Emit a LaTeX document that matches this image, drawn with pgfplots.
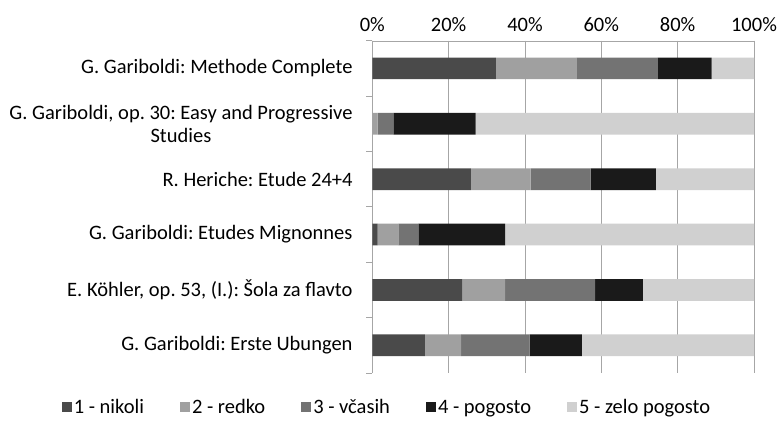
\documentclass[border=0pt]{standalone}
\usepackage{pgfplots}
\pgfplotsset{compat=1.18}
\usepackage{fontspec}
\setmainfont{Carlito}
\frenchspacing
\definecolor{c1}{HTML}{4A4A4A}
\definecolor{c2}{HTML}{A0A0A0}
\definecolor{c3}{HTML}{737373}
\definecolor{c4}{HTML}{1A1A1A}
\definecolor{c5}{HTML}{D0D0D0}
\definecolor{gridc}{HTML}{A6A6A6}
\begin{document}
\begin{tikzpicture}
\path[use as bounding box] (-372.3bp,-49bp) rectangle (406.7bp,373bp);
\begin{axis}[
  at={(0,0)}, anchor=south west,
  scale only axis,
  width=381.7bp, height=332.3bp,
  xbar stacked,
  bar width=21.7bp,
  xmin=0, xmax=100,
  ymin=-0.5, ymax=5.5,
  y dir=reverse,
  axis x line*=top,
  axis y line*=left,
  axis line style={gridc},
  xtick={0,20,40,60,80,100},
  xticklabel={\pgfmathprintnumber{\tick}\%},
  /pgf/number format/assume math mode=true,
  xmajorgrids,
  major grid style={gridc, line width=0.8pt},
  x tick style={gridc},
  major x tick style={draw=none},
  ytick={0,1,2,3,4,5},
  yticklabels={G. Gariboldi: Methode Complete,{G. Gariboldi, op. 30: Easy and Progressive\\Studies},R. Heriche: Etude 24+4,G. Gariboldi: Etudes Mignonnes,{E. Köhler, op. 53, (I.): Šola za flavto},G. Gariboldi: Erste Ubungen},
  yticklabel style={align=center, font=\fontsize{20.5bp}{23bp}\selectfont, xshift=-12bp},
  xticklabel style={font=\fontsize{20.5bp}{23bp}\selectfont, yshift=1bp},
  major y tick style={draw=none},
  minor ytick={-0.5,0.5,1.5,2.5,3.5,4.5,5.5},
  minor y tick style={gridc, line width=0.8pt},
  minor tick length=6bp,
  tick align=outside,
  legend columns=5,
  legend style={at={(0.0385,-0.111)}, anchor=center, draw=none, font=\fontsize{20.5bp}{23bp}\selectfont,
    nodes={text height=0.72em, text depth=0.22em, inner xsep=2bp},
    /tikz/every even column/.append style={column sep=34bp}},
  legend image code/.code={\fill[#1] (0bp,-1bp) rectangle (10bp,9bp);},
]
\addplot[fill=c1, draw=none] coordinates {(32.4,0) (0,1) (25.8,2) (1.4,3) (23.6,4) (13.8,5)};
\addplot[fill=c2, draw=none] coordinates {(21.2,0) (1.4,1) (15.7,2) (5.4,3) (11.2,4) (9.5,5)};
\addplot[fill=c3, draw=none] coordinates {(21.2,0) (4.1,1) (15.7,2) (5.3,3) (23.6,4) (17.9,5)};
\addplot[fill=c4, draw=none] coordinates {(14.1,0) (21.6,1) (17.1,2) (22.7,3) (12.5,4) (13.7,5)};
\addplot[fill=c5, draw=none] coordinates {(11.1,0) (72.9,1) (25.7,2) (65.2,3) (29.1,4) (45.1,5)};
\legend{1 - nikoli, 2 - redko, 3 - včasih, 4 - pogosto, 5 - zelo pogosto}
\end{axis}
\end{tikzpicture}
\end{document}
